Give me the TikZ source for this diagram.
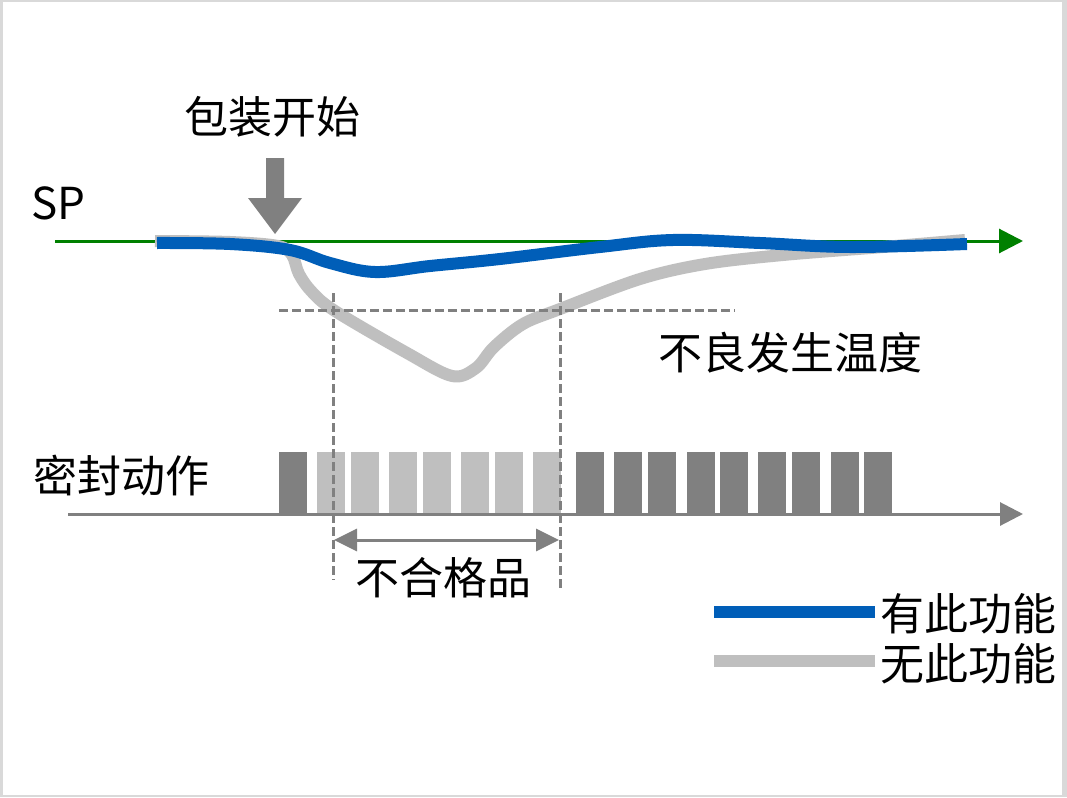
\documentclass[tikz,border=0pt]{standalone}
\usepackage{fontspec}
\setmainfont{Noto Sans CJK SC}
\usetikzlibrary{arrows.meta}
\definecolor{bluec}{RGB}{0,94,184}
\definecolor{lgray}{RGB}{191,191,191}
\definecolor{dgray}{RGB}{128,128,128}
\definecolor{frame}{RGB}{217,217,217}
\definecolor{greenc}{RGB}{0,128,0}
\tikzset{
  lbl/.style={inner sep=0pt, font=\fontsize{44}{52}\selectfont, text=black},
  bluecurve/.style={bluec, line width=12pt, line cap=butt, line join=round},
  graycurve/.style={lgray, line width=12pt, line cap=butt, line join=round},
  guide/.style={dgray, line width=3pt, dash pattern=on 9pt off 4pt},
  darkbar/.style={fill=dgray, draw=none},
  lightbar/.style={fill=lgray, draw=none},
  axisline/.style={dgray, line width=3pt},
}
\begin{document}
\begin{tikzpicture}[x=1pt,y=-1pt]
\useasboundingbox (0,0) rectangle (1067,797);
\fill[frame] (0,0) rectangle (1067,797);
\fill[white] (2.5,2.5) rectangle (1062,795);

% labels
\node[lbl] (start) at (272,117) {包装开始};
\node[lbl, anchor=base west] (sp) at (31,219) {SP};
\node[lbl, anchor=west] (temp) at (658,353) {不良发生温度};
\node[lbl, anchor=west] (seal) at (33,476) {密封动作};
\node[lbl] (ng) at (443,578) {不合格品};
\node[lbl, anchor=west] (with) at (880,614) {有此功能};
\node[lbl, anchor=west] (without) at (880,664) {无此功能};

% SP line
\coordinate (spL) at (55,241);
\coordinate (spR) at (1023,241);
\draw[greenc, line width=3pt, -{Triangle[length=24pt,width=24pt]}] (spL) -- (spR);

% start arrow
\fill[dgray] (266,158) -- (284,158) -- (284,198) -- (302,198) -- (275,234) -- (248,198) -- (266,198) -- cycle;

% curves
\draw[graycurve] plot[smooth, tension=0.55] coordinates {(155,241) (230,242) (278,246) (292,255) (299,274) (312,292) (335,311) (407,353) (452,376) (476,368) (494,347) (523,324) (560,309) (640,279) (705,264) (783,255) (883,247) (965,240)};
\draw[bluecurve] plot[smooth, tension=0.6] coordinates {(157,243) (230,244) (290,250) (330,263) (375,272) (430,266) (500,259) (600,247) (673,240) (760,243) (850,247) (967,244)};

% seal bars
\foreach \x in {279,576,614,648,687,720,758,792,831,864} \fill[darkbar] (\x,452) rectangle ++(28,62);
\foreach \x in {317,351,389,423,461,495,533} \fill[lightbar] (\x,452) rectangle ++(28,62);

% seal axis
\coordinate (axL) at (68,514);
\coordinate (axR) at (1023,514);
\draw[axisline, -{Triangle[length=23pt,width=23pt]}] (axL) -- (axR);

% guides
\coordinate (hL) at (279,310);
\coordinate (hR) at (735,310);
\draw[guide] (hL) -- (hR);
\coordinate (v1t) at (333,293);
\coordinate (v1b) at (333,580);
\coordinate (v2t) at (560,293);
\coordinate (v2b) at (560,588);
\draw[guide] (v1t) -- (v1b);
\draw[guide] (v2t) -- (v2b);

% reject span
\coordinate (rL) at (334,540);
\coordinate (rR) at (559,540);
\draw[axisline, {Triangle[length=23pt,width=22pt]}-{Triangle[length=23pt,width=22pt]}] (rL) -- (rR);

% legend
\coordinate (lb1) at (714,612);
\coordinate (lb2) at (875,612);
\draw[bluec, line width=12pt] (lb1) -- (lb2);
\coordinate (lg1) at (714,661);
\coordinate (lg2) at (875,661);
\draw[lgray, line width=12pt] (lg1) -- (lg2);
\end{tikzpicture}
\end{document}
